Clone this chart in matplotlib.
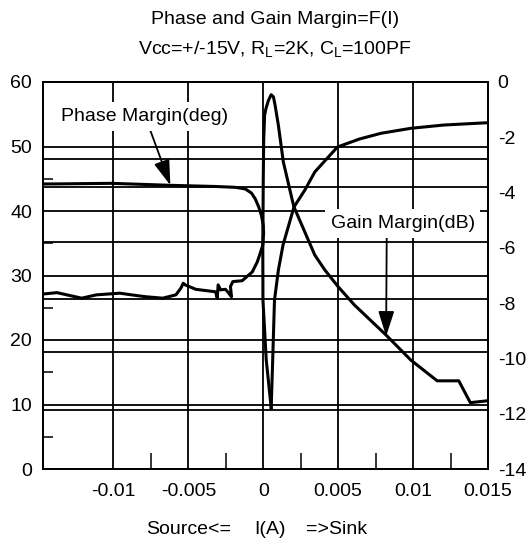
import matplotlib
matplotlib.use("Agg")
import matplotlib.pyplot as plt

plt.rcParams['font.family'] = ['Liberation Sans', 'DejaVu Sans']
plt.rcParams['mathtext.fontset'] = 'custom'
plt.rcParams['mathtext.rm'] = 'Liberation Sans'
plt.rcParams['mathtext.it'] = 'Liberation Sans:italic'
plt.rcParams['axes.unicode_minus'] = False

# ---------------- data ----------------
# Phase margin, source side (deg, left axis)
phase_source_i = [-0.0147, -0.01377, -0.01013, -0.00616, -0.00318, -0.00185, -0.00119,
                  -0.00079, -0.00053, -0.00031, -0.00013, 0.0, 0.00002]
phase_source_deg = [44.19, 44.2, 44.29, 43.98, 43.80, 43.67, 43.41,
                    42.79, 41.86, 40.67, 39.38, 37.83, 36.59]

# Gain margin, source side (dB, right axis)
gain_source_i = [0.00002, -0.00003, -0.0002, -0.0004, -0.00073, -0.00141, -0.00203,
                 -0.00219, -0.00212, -0.0023, -0.00252, -0.00285, -0.00301, -0.00307,
                 -0.00318, -0.0045, -0.00521, -0.00534, -0.0055, -0.00583, -0.00671,
                 -0.00781, -0.00826, -0.00958, -0.01113, -0.01212, -0.01377, -0.0147]
gain_source_db = [-5.46, -5.90, -6.19, -6.51, -6.87, -7.19, -7.22,
                  -7.40, -7.77, -7.64, -7.50, -7.52, -7.34, -7.82,
                  -7.59, -7.50, -7.34, -7.28, -7.46, -7.70, -7.82,
                  -7.77, -7.74, -7.64, -7.70, -7.82, -7.62, -7.67]

# Phase margin, sink side (deg, left axis)
phase_sink_i = [0.00053, 0.00063, 0.00075, 0.00101, 0.00132, 0.00205, 0.00278, 0.00344,
                0.00495, 0.00642, 0.00786, 0.00985, 0.01205, 0.015]
phase_sink_deg = [9.46, 16.9, 26.2, 30.85, 34.73, 40.62, 43.26, 46.05,
                  49.92, 51.16, 52.05, 52.82, 53.33, 53.69]

# Gain margin, sink side (dB, right axis)
gain_sink_i = [0.00053, 0.0002, -0.00002, -0.00003, 0.0, 0.00003, 0.00009, 0.00018,
               0.00035, 0.00053, 0.00068, 0.00079, 0.00101, 0.00134, 0.00194, 0.00205,
               0.00344, 0.00411, 0.00499, 0.00609, 0.00819, 0.00985, 0.01161, 0.01305,
               0.01382, 0.015]
gain_sink_db = [-11.79, -10.06, -7.89, -6.08, -3.54, -2.10, -1.20, -0.96,
                -0.66, -0.46, -0.54, -0.84, -1.57, -2.89, -4.28, -4.52,
                -6.26, -6.80, -7.40, -8.07, -9.15, -10.06, -10.81, -10.81,
                -11.60, -11.53]

x_ticks = [-0.01, -0.005, 0, 0.005, 0.01, 0.015]
x_tick_labels = ['-0.01', '-0.005', '0', '0.005', '0.01', '0.015']
x_grid = [-0.01, -0.005, 0, 0.005, 0.01]
x_minor = [-0.0075, -0.0025, 0.0025, 0.0075, 0.0125]
phase_ticks = [0, 10, 20, 30, 40, 50, 60]
phase_grid = [10, 20, 30, 40, 50]
phase_minor = [5, 15, 25, 35, 45]
gain_ticks = [-14, -12, -10, -8, -6, -4, -2, 0]
gain_grid = [-2.8, -3.8, -5.8, -7.85, -9.75, -11.85]

# ---------------- figure ----------------
W, H = 529, 542
fig = plt.figure(figsize=(W / 100, H / 100), dpi=100)
ax1 = fig.add_axes([43 / W, 1 - 469 / H, 445 / W, 387 / H])
ax2 = ax1.twinx()
ax1.set_zorder(ax2.get_zorder() + 1)
ax1.patch.set_visible(False)

ax1.set_xlim(-0.0147, 0.015)
ax1.set_ylim(0, 60)
ax2.set_ylim(-14, 0)

glw = 1.3
for xv in x_grid:
    ax1.axvline(xv, color='black', lw=glw, zorder=1)
for yv in phase_grid:
    ax1.axhline(yv, color='black', lw=glw, zorder=1)
for yv in gain_grid:
    ax2.axhline(yv, color='black', lw=glw, zorder=1)

clw = 2.2
ax1.plot(phase_source_i, phase_source_deg, color='black', lw=clw, zorder=3, solid_joinstyle='round')
ax2.plot(gain_source_i, gain_source_db, color='black', lw=clw, zorder=3, solid_joinstyle='round')
ax1.plot(phase_sink_i, phase_sink_deg, color='black', lw=clw, zorder=3, solid_joinstyle='round')
ax2.plot(gain_sink_i, gain_sink_db, color='black', lw=clw, zorder=3, solid_joinstyle='round')

# ticks
ax1.set_xticks(x_ticks, x_tick_labels)
ax1.set_xticks(x_minor, minor=True)
ax1.set_yticks(phase_ticks)
ax1.set_yticks(phase_minor, minor=True)
ax2.set_yticks(gain_ticks)
ax1.tick_params(axis='x', which='major', length=0, pad=10, labelsize=14)
ax1.tick_params(axis='x', which='minor', direction='in', length=11.5, width=1.1)
ax1.tick_params(axis='y', which='major', length=0, pad=8, labelsize=14)
ax1.tick_params(axis='y', which='minor', direction='in', length=7, width=1.1)
ax2.tick_params(axis='y', which='major', length=0, pad=7, labelsize=14)
ax2.tick_params(axis='y', which='minor', length=0)

for ax in (ax1, ax2):
    for s in ax.spines.values():
        s.set_linewidth(1.4)

# annotations
ax1.annotate('Phase Margin(deg)', xy=(-0.0062, 44.0), xytext=(-0.0079, 54.7),
             textcoords='data', ha='center', va='center', fontsize=14, zorder=6,
             bbox=dict(boxstyle='square,pad=0.3', fc='white', ec='none'),
             arrowprops=dict(arrowstyle='-|>,head_length=1.1,head_width=0.35',
                             lw=1.3, color='black', shrinkA=0, shrinkB=0,
                             relpos=(0.52, 0.0)))
ax1.annotate('Gain Margin(dB)', xy=(0.0082, -9.2), xycoords=ax2.transData,
             xytext=(0.0093, 38.1), textcoords='data', ha='center', va='center',
             fontsize=14, zorder=6,
             bbox=dict(boxstyle='square,pad=0.3', fc='white', ec='none'),
             arrowprops=dict(arrowstyle='-|>,head_length=1.1,head_width=0.35',
                             lw=1.3, color='black', shrinkA=0, shrinkB=0,
                             relpos=(0.39, 0.0)))

# titles and x label
fig.text(275 / W, 1 - 19 / H, 'Phase and Gain Margin=F(I)', ha='center', va='center', fontsize=14)
fig.text(275 / W, 1 - 49 / H, r'Vcc=+/-15V, R$_{\rm L}$=2K, C$_{\rm L}$=100PF',
         ha='center', va='center', fontsize=14)
fig.text(189 / W, 1 - 529 / H, 'Source<=', ha='center', va='center', fontsize=14)
fig.text(270 / W, 1 - 529 / H, 'I(A)', ha='center', va='center', fontsize=14)
fig.text(337 / W, 1 - 529 / H, '=>Sink', ha='center', va='center', fontsize=14)

fig.savefig('out.png', dpi=100)
